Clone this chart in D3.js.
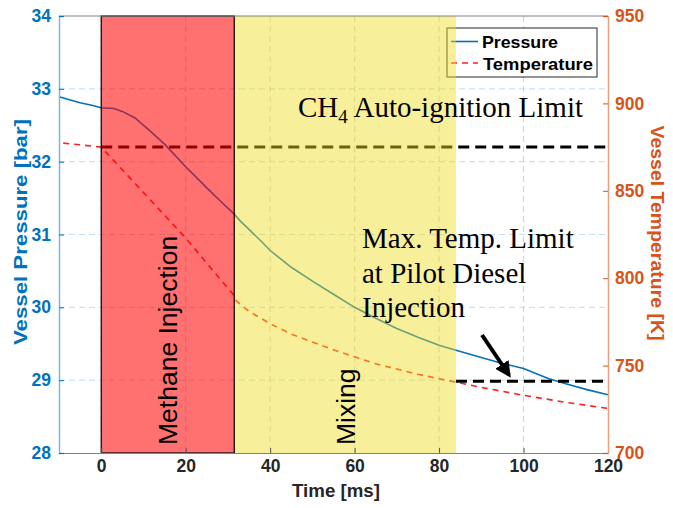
<!DOCTYPE html>
<html><head><meta charset="utf-8">
<script src="https://cdn.jsdelivr.net/npm/d3@7"></script>
<style>body{margin:0;background:#fff}svg{display:block}</style>
</head><body>
<script>
const timeP = [-10,-5,-2,0,3,5,8,11,15,20,25,28,31.5,33,35,38,40,45,50,55,60,65,70,75,80,84,90,95,100,106,110,115,120];
const pressure = [32.89,32.81,32.77,32.74,32.73,32.69,32.6,32.45,32.24,31.93,31.64,31.47,31.28,31.18,31.07,30.9,30.78,30.55,30.36,30.18,30.0,29.85,29.71,29.59,29.48,29.41,29.31,29.23,29.16,29.02,28.95,28.87,28.8];
const timeT = [-9,-5,0,5,10,15,20,25,28,31.5,32,35,40,45,50,55,60,65,70,75,80,84,90,100,110,120];
const temperature = [877.3,876.3,875,862,849,836,823,808.5,800,790,787,781,774,768,763.5,759,755,751,748,745,742.5,740.5,737.5,733,729,725.5];
const xTicks = [0,20,40,60,80,100,120];
const pTicks = [28,29,30,31,32,33,34];
const tTicks = [700,750,800,850,900,950];
const phases = [{name:"Methane Injection", start:0, end:31.5}, {name:"Mixing", start:31.5, end:84}];
const autoIgnition = {T:875, from:0, to:120};
const maxTemp = {T:741, from:84, to:120};

const W=673,H=508;
const m={l:59,r:65,t:16,b:55};
const svg=d3.select("body").append("svg").attr("width",W).attr("height",H);
const x=d3.scaleLinear().domain([-10,120]).range([m.l,W-m.r]);
const yP=d3.scaleLinear().domain([28,34]).range([H-m.b,m.t]);
const yT=d3.scaleLinear().domain([700,950]).range([H-m.b,m.t]);
const blue="#0072BD", orange="#D95319", dark="#262626";
const font="Liberation Sans, Arial, sans-serif";
const serif="Liberation Serif, Times New Roman, serif";

// grid
const g=svg.append("g");
g.selectAll(".vg").data(xTicks.filter(d=>d>-10&&d<120)).join("line")
 .attr("x1",d=>x(d)).attr("x2",d=>x(d)).attr("y1",m.t).attr("y2",H-m.b)
 .attr("stroke","#000").attr("stroke-opacity",0.18).attr("stroke-dasharray","6,4");
g.selectAll(".hg").data(pTicks.filter(d=>d>28&&d<34)).join("line")
 .attr("x1",m.l).attr("x2",W-m.r).attr("y1",d=>yP(d)).attr("y2",d=>yP(d))
 .attr("stroke","#a8cde9").attr("stroke-opacity",0.7).attr("stroke-dasharray","6,4");

// data lines
svg.append("path").datum(timeP.map((t,i)=>[t,pressure[i]]))
 .attr("d",d3.line().x(d=>x(d[0])).y(d=>yP(d[1])))
 .attr("fill","none").attr("stroke",blue).attr("stroke-width",1.6);
svg.append("path").datum(timeT.map((t,i)=>[t,temperature[i]]))
 .attr("d",d3.line().x(d=>x(d[0])).y(d=>yT(d[1])))
 .attr("fill","none").attr("stroke","#ff2020").attr("stroke-width",1.6).attr("stroke-dasharray","6,5");

// limit lines
[autoIgnition,maxTemp].forEach(L=>{
 svg.append("line").attr("x1",x(L.from)).attr("x2",x(L.to)).attr("y1",yT(L.T)).attr("y2",yT(L.T))
  .attr("stroke","#000").attr("stroke-width",3).attr("stroke-dasharray","11,6");
});

// legend
const lg=svg.append("g");
lg.append("rect").attr("x",447).attr("y",28).attr("width",150).attr("height",49).attr("fill","#fff").attr("stroke",dark).attr("stroke-width",1);
lg.append("line").attr("x1",451).attr("x2",478).attr("y1",41.5).attr("y2",41.5).attr("stroke",blue).attr("stroke-width",1.6);
lg.append("line").attr("x1",451).attr("x2",478).attr("y1",63).attr("y2",63).attr("stroke","#ff2020").attr("stroke-width",1.6).attr("stroke-dasharray","6,5");
lg.append("text").attr("x",482).attr("y",48).text("Pressure").attr("textLength",76).attr("lengthAdjust","spacingAndGlyphs")
 .attr("font-family",font).attr("font-weight","bold").attr("font-size",17).attr("fill","#000");
lg.append("text").attr("x",483).attr("y",70).text("Temperature").attr("textLength",110).attr("lengthAdjust","spacingAndGlyphs")
 .attr("font-family",font).attr("font-weight","bold").attr("font-size",17).attr("fill","#000");

// phase patches
svg.append("rect").attr("x",x(phases[1].start)).attr("y",m.t).attr("width",x(phases[1].end)-x(phases[1].start)).attr("height",H-m.b-m.t)
 .attr("fill","rgb(240,220,30)").attr("fill-opacity",0.45);
svg.append("rect").attr("x",x(phases[0].start)).attr("y",m.t).attr("width",x(phases[0].end)-x(phases[0].start)).attr("height",H-m.b-m.t)
 .attr("fill","rgb(255,0,0)").attr("fill-opacity",0.56).attr("stroke","#000").attr("stroke-width",1.2);

// phase labels
svg.append("text").attr("transform",`translate(177,${H-m.b-8}) rotate(-90)`)
 .text(phases[0].name).attr("font-family",font).attr("font-size",26.5).attr("fill","#000");
svg.append("text").attr("transform",`translate(355,${H-m.b-8}) rotate(-90)`)
 .text(phases[1].name).attr("font-family",font).attr("font-size",26.5).attr("fill","#000");

// annotations
const ch=svg.append("text").attr("x",298).attr("y",117).attr("font-family",serif).attr("font-size",29).attr("fill","#000");
ch.append("tspan").text("CH");
ch.append("tspan").text("4").attr("font-size",19).attr("dy",6);
ch.append("tspan").text(" Auto-ignition Limit").attr("dy",-6);
["Max. Temp. Limit","at Pilot Diesel","Injection"].forEach((s,i)=>{
 svg.append("text").attr("x",362).attr("y",248+i*34.5).text(s).attr("font-family",serif).attr("font-size",29).attr("fill","#000");
});
// arrow
svg.append("defs").append("marker").attr("id","ah").attr("viewBox","0 0 10 10").attr("refX",8).attr("refY",5)
 .attr("markerWidth",4).attr("markerHeight",4).attr("orient","auto")
 .append("path").attr("d","M0,0 L10,5 L0,10 z").attr("fill","#000");
svg.append("line").attr("x1",482).attr("y1",335).attr("x2",509).attr("y2",375).attr("stroke","#000").attr("stroke-width",4).attr("marker-end","url(#ah)");

// axes
const ax=svg.append("g").attr("transform",`translate(0,${H-m.b})`)
 .call(d3.axisBottom(x).tickValues(xTicks).tickFormat(d3.format("d")).tickSize(-5).tickPadding(7));
ax.select(".domain").attr("stroke","#808080");
ax.selectAll(".tick line").attr("stroke","#555");
ax.selectAll("text").attr("font-family",font).attr("font-weight","bold").attr("font-size",17.5).attr("fill",dark);
svg.append("line").attr("x1",m.l).attr("x2",W-m.r).attr("y1",m.t).attr("y2",m.t).attr("stroke","#808080");

const al=svg.append("g").attr("transform",`translate(${m.l},0)`)
 .call(d3.axisLeft(yP).tickValues(pTicks).tickFormat(d3.format("d")).tickSize(-5).tickPadding(8));
al.select(".domain").attr("stroke","#7fb6dd").attr("stroke-width",1.5);
al.selectAll(".tick line").attr("stroke",blue);
al.selectAll("text").attr("font-family",font).attr("font-weight","bold").attr("font-size",17.5).attr("fill",blue);

const ar=svg.append("g").attr("transform",`translate(${W-m.r},0)`)
 .call(d3.axisRight(yT).tickValues(tTicks).tickFormat(d3.format("d")).tickSize(-5).tickPadding(7));
ar.select(".domain").attr("stroke","#e8a080").attr("stroke-width",1.5);
ar.selectAll(".tick line").attr("stroke",orange);
ar.selectAll("text").attr("font-family",font).attr("font-weight","bold").attr("font-size",17.5).attr("fill",orange);

svg.append("text").attr("x",336).attr("y",497).attr("text-anchor","middle").text("Time [ms]")
 .attr("textLength",88).attr("lengthAdjust","spacingAndGlyphs")
 .attr("font-family",font).attr("font-weight","bold").attr("font-size",17.5).attr("fill",dark);
svg.append("text").attr("transform",`translate(27,232) rotate(-90)`).attr("text-anchor","middle").text("Vessel Pressure [bar]")
 .attr("textLength",226).attr("lengthAdjust","spacingAndGlyphs")
 .attr("font-family",font).attr("font-weight","bold").attr("font-size",17.5).attr("fill",blue);
svg.append("text").attr("transform",`translate(651,233) rotate(90)`).attr("text-anchor","middle").text("Vessel Temperature [K]")
 .attr("textLength",215).attr("lengthAdjust","spacingAndGlyphs")
 .attr("font-family",font).attr("font-weight","bold").attr("font-size",17.5).attr("fill",orange);
</script>
</body></html>
